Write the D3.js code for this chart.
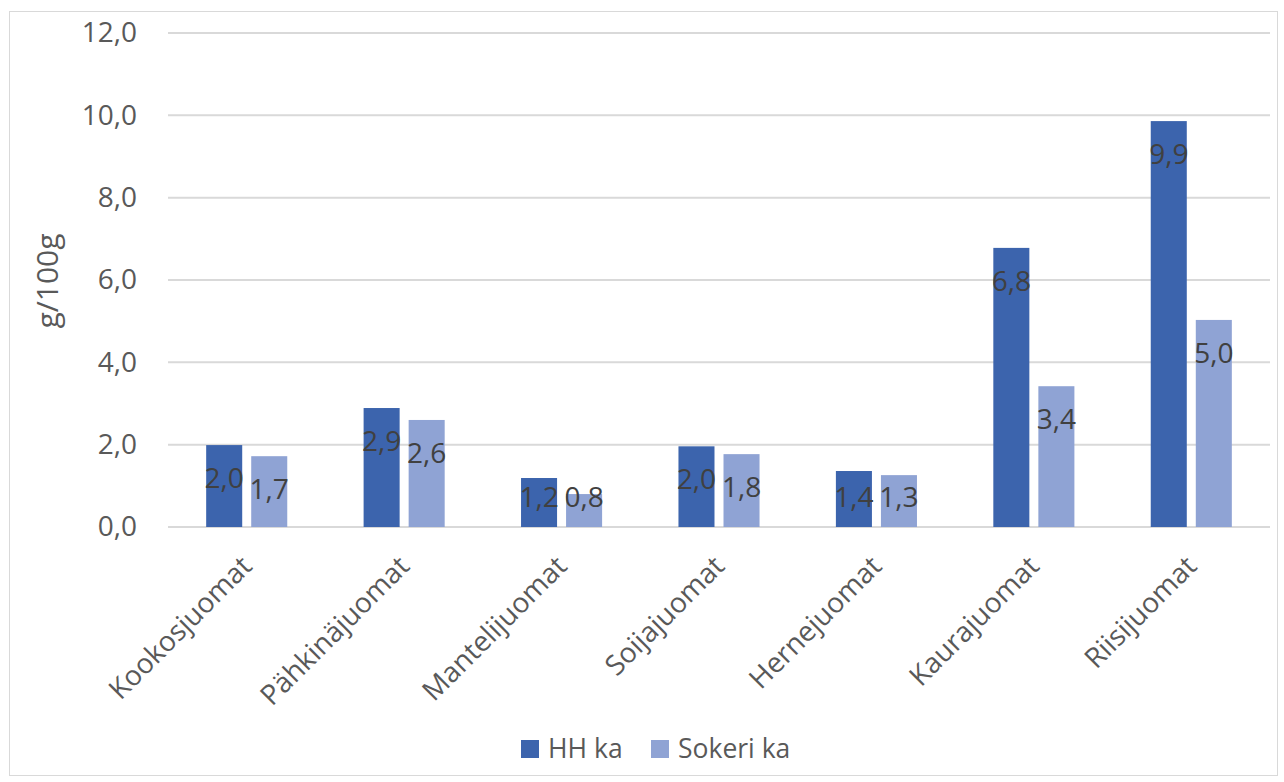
<!DOCTYPE html>
<html><head><meta charset="utf-8">
<script src="https://cdn.jsdelivr.net/npm/d3@7"></script>
<style>
html,body{margin:0;padding:0;background:#fff;}
svg{display:block;font-family:"Open Sans",sans-serif;}
</style></head>
<body>
<svg id="c" width="1284" height="782"></svg>
<script>
const categories = ["Kookosjuomat","Pähkinäjuomat","Mantelijuomat","Soijajuomat","Hernejuomat","Kaurajuomat","Riisijuomat"];
const seriesNames = ["HH ka","Sokeri ka"];
const hhValues = [1.99, 2.89, 1.19, 1.96, 1.36, 6.78, 9.86];
const sokeriValues = [1.72, 2.60, 0.80, 1.77, 1.26, 3.42, 5.03];
const yTicks = [0, 2, 4, 6, 8, 10, 12];
const colors = ["#3C64AD", "#8FA3D4"];

(function(){
const svg = d3.select("#c");
const pLeft = 168, pRight = 1270, pTop = 33, pBottom = 527;

svg.append("rect").attr("x",9.5).attr("y",11.5).attr("width",1268).attr("height",764)
  .attr("fill","#fff").attr("stroke","#d9d9d9").attr("stroke-width",1);

const y = d3.scaleLinear().domain([0,12]).range([pBottom, pTop]);
const x0 = d3.scaleBand().domain(categories).range([pLeft,pRight]).paddingInner(0.485).paddingOuter(0.2425);
const x1 = d3.scaleBand().domain(seriesNames).range([0, x0.bandwidth()]).paddingInner(0.2).paddingOuter(0);

const fmt = v => d3.format(".1f")(v).replace(".", ",");

// gridlines
svg.append("g").selectAll("line").data(yTicks).join("line")
  .attr("x1",pLeft).attr("x2",pRight)
  .attr("y1",d=>y(d)).attr("y2",d=>y(d))
  .attr("stroke","#d9d9d9").attr("stroke-width",2);

// y axis tick labels
const yAxis = d3.axisLeft(y).tickValues(yTicks).tickFormat(fmt).tickSize(0).tickPadding(31);
const ya = svg.append("g").attr("transform",`translate(${pLeft},0)`).call(yAxis);
ya.select(".domain").remove();
ya.selectAll("text").attr("font-family","'Open Sans',sans-serif").attr("font-size",28).attr("fill","#595959");

// y axis title
svg.append("text").attr("transform",`translate(58,${(pTop+pBottom)/2+1}) rotate(-90)`)
  .attr("text-anchor","middle").attr("font-size",30).attr("fill","#595959").text("g/100g");

// bars
const data = categories.map((c,i)=>({cat:c, vals:[{s:seriesNames[0],v:hhValues[i],k:0},{s:seriesNames[1],v:sokeriValues[i],k:1}]}));
const groups = svg.append("g").selectAll("g").data(data).join("g")
  .attr("transform",d=>`translate(${x0(d.cat)},0)`);
groups.selectAll("rect").data(d=>d.vals).join("rect")
  .attr("x",d=>x1(d.s)).attr("width",x1.bandwidth())
  .attr("y",d=>y(d.v)).attr("height",d=>y(0)-y(d.v))
  .attr("fill",d=>colors[d.k]);
groups.selectAll("text").data(d=>d.vals).join("text")
  .attr("x",d=>x1(d.s)+x1.bandwidth()/2)
  .attr("y",d=>Math.min(y(d.v)+43, y(0)-20))
  .attr("text-anchor","middle").attr("font-size",28).attr("fill","#404040")
  .text(d=>fmt(d.v));

// x axis labels
const xa = svg.append("g");
xa.selectAll("text").data(categories).join("text")
  .attr("transform",d=>`translate(${x0(d)+x0.bandwidth()/2},561) rotate(-45)`)
  .attr("text-anchor","end").attr("dy","0.35em")
  .attr("font-size",28).attr("fill","#595959").text(d=>d);

// legend
const leg = svg.append("g");
const legX = [521, 651];
seriesNames.forEach((s,i)=>{
  leg.append("rect").attr("x",legX[i]).attr("y",740).attr("width",18).attr("height",18).attr("fill",colors[i]);
  leg.append("text").attr("x",legX[i]+27).attr("y",758).attr("font-size",26.5).attr("fill","#595959").text(s);
});
})();
</script>
</body></html>
